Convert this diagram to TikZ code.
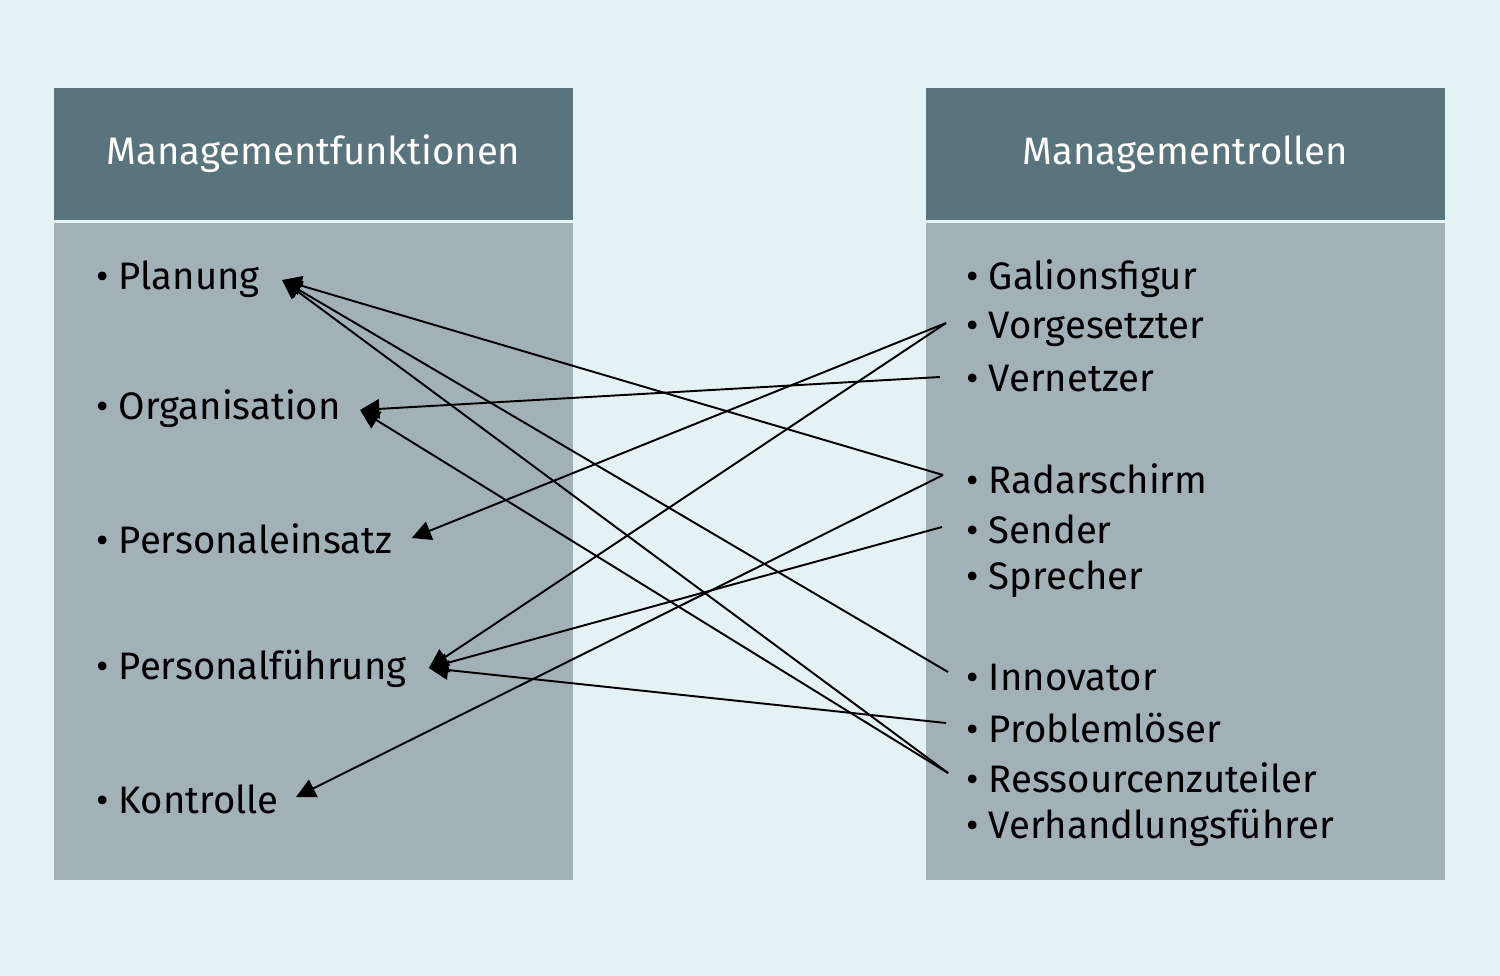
\documentclass[tikz,border=0pt]{standalone}
\usepackage{fontspec}
\setmainfont{Fira Sans}
\usepackage{tikz}
\usetikzlibrary{arrows.meta,positioning}

\definecolor{bgcol}{HTML}{E5F2F4}
\definecolor{headcol}{HTML}{5A747D}
\definecolor{bodycol}{HTML}{A1B1B5}

\begin{document}
\begin{tikzpicture}[x=0.02cm,y=-0.02cm]
	\tikzset{
		head/.style={fill=headcol,text=white,minimum width=10.38cm,minimum height=2.64cm,inner sep=0pt,font=\fontsize{21.8}{26}\selectfont},
		item/.style={anchor=west,inner sep=0pt,font=\fontsize{21.8}{26}\selectfont},
		link/.style={-{Triangle[length=11pt,width=11pt]},line width=1.1pt}
	}
	\fill[bgcol] (0,0) rectangle (1500,976);
	\useasboundingbox (0,0) rectangle (1500,976);
	% boxes
	\fill[bodycol] (54,223) rectangle (573,880);
	\fill[bodycol] (926,223) rectangle (1445,880);
	\node[head] (funk) at (313.5,154) {Managementfunktionen};
	\node[head] (rol) at (1185.5,154) {Managementrollen};
	% functions
	\node[item] (plan) at (96,279) {\textbullet\ Planung};
	\node[item] (org) at (96,409) {\textbullet\ Organisation};
	\node[item] (eins) at (96,539) {\textbullet\ Personaleinsatz};
	\node[item] (fuehr) at (96,669) {\textbullet\ Personalführung};
	\node[item] (kontr) at (96,799) {\textbullet\ Kontrolle};
	% roles
	\node[item] (gal) at (966,279) {\textbullet\ Galionsfigur};
	\node[item] (vorg) at (966,329) {\textbullet\ Vorgesetzter};
	\node[item] (netz) at (966,379) {\textbullet\ Vernetzer};
	\node[item] (radar) at (966,479) {\textbullet\ Radarschirm};
	\node[item] (send) at (966,529) {\textbullet\ Sender};
	\node[item] (sprech) at (966,579) {\textbullet\ Sprecher};
	\node[item] (innov) at (966,678) {\textbullet\ Innovator};
	\node[item] (probl) at (966,728) {\textbullet\ Problemlöser};
	\node[item] (ress) at (966,778) {\textbullet\ Ressourcenzuteiler};
	\node[item] (verh) at (966,828) {\textbullet\ Verhandlungsführer};
	% links
	\draw[link] ([shift={(-23,-4)}]radar.west) -- ([shift={(22,1)}]plan.east);
	\draw[link] ([shift={(-18,-6)}]innov.west) -- ([shift={(22,1)}]plan.east);
	\draw[link] ([shift={(-18,-5)}]ress.west) -- ([shift={(22,1)}]plan.east);
	\draw[link] ([shift={(-26,-2)}]netz.west) -- ([shift={(19,1)}]org.east);
	\draw[link] ([shift={(-18,-5)}]ress.west) -- ([shift={(19,1)}]org.east);
	\draw[link] ([shift={(-20,-6)}]vorg.west) -- ([shift={(19,-1)}]eins.east);
	\draw[link] ([shift={(-20,-6)}]vorg.west) -- ([shift={(22,-1)}]fuehr.east);
	\draw[link] ([shift={(-24,-2)}]send.west) -- ([shift={(22,-1)}]fuehr.east);
	\draw[link] ([shift={(-20,-5)}]probl.west) -- ([shift={(22,-1)}]fuehr.east);
	\draw[link] ([shift={(-23,-4)}]radar.west) -- ([shift={(17,-2)}]kontr.east);
\end{tikzpicture}
\end{document}
